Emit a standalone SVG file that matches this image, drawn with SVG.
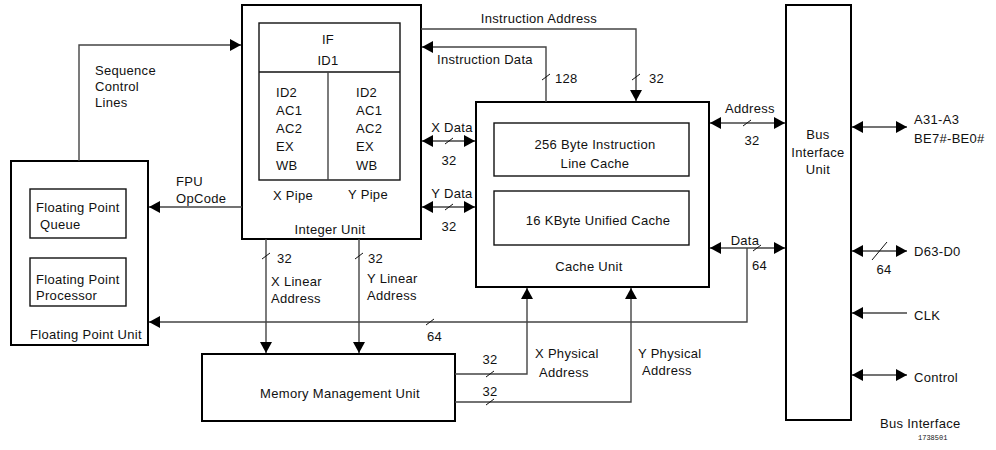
<svg xmlns="http://www.w3.org/2000/svg" width="996" height="450" viewBox="0 0 996 450">
  <style>
    text { font-family: "Liberation Sans", Arial, sans-serif; font-size: 13px; letter-spacing: 0.3px; fill: #111; }
    .box { fill: #fff; stroke: #000; stroke-width: 2; }
    .inner { fill: #fff; stroke: #111; stroke-width: 1.4; }
    .wire { fill: none; stroke: #444; stroke-width: 1.4; }
    .slash { stroke: #111; stroke-width: 1; }
    .mid { text-anchor: middle; }
    .tiny { font-family: "Liberation Mono", monospace; font-size: 7px; letter-spacing: 0; }
  </style>
  <defs>
    <marker id="arrow" markerUnits="userSpaceOnUse" markerWidth="12" markerHeight="12" refX="11" refY="6" orient="auto-start-reverse">
      <path d="M0,0 L11,6 L0,12 Z" fill="#000"/>
    </marker>
  </defs>

  <!-- Floating Point Unit -->
  <g id="fpu">
    <rect class="box" x="11" y="161" width="137" height="184"/>
    <rect class="inner" x="30" y="189" width="96" height="49"/>
    <text x="36" y="212">Floating Point</text>
    <text x="40" y="229">Queue</text>
    <rect class="inner" x="30" y="258" width="96" height="48"/>
    <text x="36" y="284">Floating Point</text>
    <text x="36" y="300">Processor</text>
    <text x="30" y="339">Floating Point Unit</text>
  </g>

  <!-- Integer Unit with pipelines -->
  <g id="integer-unit">
    <rect class="box" x="242" y="5" width="179" height="234"/>
    <rect class="inner" x="259" y="23" width="141" height="157"/>
    <line x1="259" y1="72" x2="400" y2="72" stroke="#111" stroke-width="1.4"/>
    <line x1="328" y1="72" x2="328" y2="180" stroke="#444" stroke-width="1.4"/>
    <text class="mid" x="328" y="44" letter-spacing="-1">IF</text>
    <text class="mid" x="328" y="65">ID1</text>
    <text x="276" y="97">ID2</text>
    <text x="276" y="115">AC1</text>
    <text x="276" y="133">AC2</text>
    <text x="276" y="151" letter-spacing="-1">EX</text>
    <text x="276" y="170">WB</text>
    <text x="356" y="97">ID2</text>
    <text x="356" y="115">AC1</text>
    <text x="356" y="133">AC2</text>
    <text x="356" y="151" letter-spacing="-1">EX</text>
    <text x="356" y="170">WB</text>
    <text class="mid" x="293" y="200">X Pipe</text>
    <text class="mid" x="368" y="199">Y Pipe</text>
    <text class="mid" x="330" y="234">Integer Unit</text>
  </g>

  <!-- Cache Unit -->
  <g id="cache-unit">
    <rect class="box" x="476" y="102" width="233" height="185"/>
    <rect class="inner" x="494" y="123" width="195" height="53"/>
    <text class="mid" x="595" y="149">256 Byte Instruction</text>
    <text class="mid" x="595" y="168">Line Cache</text>
    <rect class="inner" x="494" y="191" width="195" height="54"/>
    <text class="mid" x="598" y="225">16 KByte Unified Cache</text>
    <text class="mid" x="589" y="271">Cache Unit</text>
  </g>

  <!-- Memory Management Unit -->
  <g id="mmu">
    <rect class="box" x="202" y="354" width="253" height="67"/>
    <text class="mid" x="340" y="398">Memory Management Unit</text>
  </g>

  <!-- Bus Interface Unit -->
  <g id="bus-interface-unit">
    <rect class="box" x="786" y="5" width="65" height="415"/>
    <text class="mid" x="818" y="139" fill="#333">Bus</text>
    <text class="mid" x="818" y="157" fill="#333">Interface</text>
    <text class="mid" x="818" y="174" fill="#333">Unit</text>
  </g>

  <!-- Connectors -->
  <g id="connectors">
    <!-- Sequence control lines -->
    <polyline class="wire" points="79,161 79,45 241,45" marker-end="url(#arrow)"/>
    <!-- FPU opcode -->
    <line class="wire" x1="242" y1="207" x2="149" y2="207" marker-end="url(#arrow)"/>
    <!-- Instruction address -->
    <polyline class="wire" points="421,29 636,29 636,101" marker-end="url(#arrow)"/>
    <!-- Instruction data -->
    <polyline class="wire" points="546,102 546,47 422,47" marker-end="url(#arrow)"/>
    <!-- X / Y data -->
    <line class="wire" x1="422" y1="141" x2="475" y2="141" marker-start="url(#arrow)" marker-end="url(#arrow)"/>
    <line class="wire" x1="422" y1="207" x2="475" y2="207" marker-start="url(#arrow)" marker-end="url(#arrow)"/>
    <!-- Address / Data to bus unit -->
    <line class="wire" x1="710" y1="123" x2="785" y2="123" marker-start="url(#arrow)" marker-end="url(#arrow)"/>
    <line class="wire" x1="710" y1="248" x2="785" y2="248" marker-start="url(#arrow)" marker-end="url(#arrow)"/>
    <!-- 64-bit data to FPU -->
    <polyline class="wire" points="747,248 747,322 149,322" marker-end="url(#arrow)"/>
    <!-- Linear addresses -->
    <line class="wire" x1="266" y1="239" x2="266" y2="353" marker-end="url(#arrow)"/>
    <line class="wire" x1="359" y1="239" x2="359" y2="353" marker-end="url(#arrow)"/>
    <!-- Physical addresses -->
    <polyline class="wire" points="455,374 527,374 527,288" marker-end="url(#arrow)"/>
    <polyline class="wire" points="455,402 631,402 631,288" marker-end="url(#arrow)"/>
    <!-- External bus -->
    <line class="wire" x1="852" y1="127" x2="907" y2="127" marker-start="url(#arrow)" marker-end="url(#arrow)"/>
    <line class="wire" x1="852" y1="251" x2="907" y2="251" marker-start="url(#arrow)" marker-end="url(#arrow)"/>
    <line class="wire" x1="907" y1="313" x2="852" y2="313" marker-end="url(#arrow)"/>
    <line class="wire" x1="852" y1="375" x2="907" y2="375" marker-start="url(#arrow)" marker-end="url(#arrow)"/>

    <!-- bus-width ticks -->
    <line class="slash" x1="542" y1="80" x2="550" y2="74"/>
    <line class="slash" x1="632" y1="80" x2="640" y2="74"/>
    <line class="slash" x1="445" y1="144" x2="453" y2="138"/>
    <line class="slash" x1="445" y1="210" x2="453" y2="204"/>
    <line class="slash" x1="743" y1="126" x2="751" y2="120"/>
    <line class="slash" x1="753" y1="251" x2="761" y2="245"/>
    <line class="slash" x1="426" y1="325" x2="434" y2="319"/>
    <line class="slash" x1="262" y1="259" x2="270" y2="253"/>
    <line class="slash" x1="355" y1="259" x2="363" y2="253"/>
    <line class="slash" x1="486" y1="377" x2="494" y2="371"/>
    <line class="slash" x1="486" y1="405" x2="494" y2="399"/>
    <line class="slash" x1="872" y1="260" x2="887" y2="242"/>

    <!-- connector labels -->
    <text x="95" y="75">Sequence</text>
    <text x="95" y="91">Control</text>
    <text x="95" y="107">Lines</text>
    <text x="176" y="186" letter-spacing="-0.5">FPU</text>
    <text x="176" y="203">OpCode</text>
    <text class="mid" x="539" y="23">Instruction Address</text>
    <text x="437" y="64">Instruction Data</text>
    <text x="555" y="83">128</text>
    <text x="649" y="83">32</text>
    <text class="mid" x="452" y="132">X Data</text>
    <text class="mid" x="449" y="165">32</text>
    <text class="mid" x="452" y="198">Y Data</text>
    <text class="mid" x="449" y="231">32</text>
    <text class="mid" x="750" y="113">Address</text>
    <text class="mid" x="752" y="145">32</text>
    <text class="mid" x="745" y="245">Data</text>
    <text x="752" y="270">64</text>
    <text x="427" y="341">64</text>
    <text x="277" y="263">32</text>
    <text x="368" y="263">32</text>
    <text x="271" y="286">X Linear</text>
    <text x="271" y="303">Address</text>
    <text x="367" y="283">Y Linear</text>
    <text x="367" y="300">Address</text>
    <text class="mid" x="490" y="364">32</text>
    <text class="mid" x="490" y="396">32</text>
    <text x="535" y="358">X Physical</text>
    <text x="539" y="377">Address</text>
    <text x="638" y="358">Y Physical</text>
    <text x="642" y="375">Address</text>
    <text x="914" y="124">A31-A3</text>
    <text x="914" y="143" letter-spacing="-0.3">BE7#-BE0#</text>
    <text x="914" y="256">D63-D0</text>
    <text class="mid" x="884" y="274">64</text>
    <text x="914" y="320">CLK</text>
    <text x="914" y="382">Control</text>
    <text x="880" y="428">Bus Interface</text>
    <text class="tiny" x="918" y="440">1738501</text>
  </g>
</svg>
